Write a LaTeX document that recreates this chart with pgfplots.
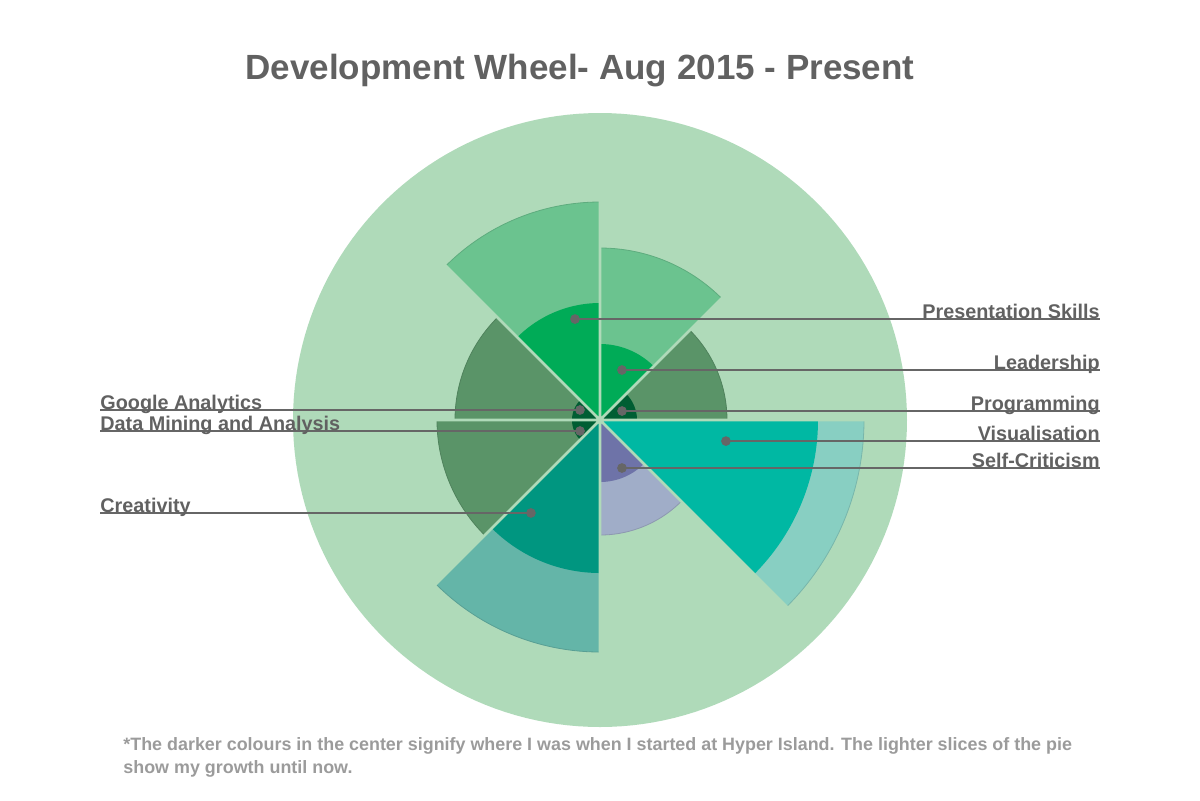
\documentclass[border=0pt]{standalone}
\usepackage{pgfplots}
\pgfplotsset{compat=1.18}
\usepgfplotslibrary{polar}
\usepackage{fontspec}
\setmainfont{Liberation Sans}

\definecolor{wheelbg}{HTML}{AFDAB9}
\definecolor{txtgray}{HTML}{616161}
\definecolor{notegray}{HTML}{9B9B9B}
\definecolor{dotgray}{HTML}{666666}
\definecolor{lgreen}{HTML}{6BC38F}
\definecolor{bgreen}{HTML}{00AB57}
\definecolor{mgreen}{HTML}{5A9468}
\definecolor{dgreen}{HTML}{005E33}
\definecolor{crOut}{HTML}{64B5A8}
\definecolor{crIn}{HTML}{009680}
\definecolor{scOut}{HTML}{A0ADC8}
\definecolor{scIn}{HTML}{6E73A8}
\definecolor{viOut}{HTML}{88CFC2}
\definecolor{viIn}{HTML}{00B8A3}

\pgfplotsset{
  outer/.style={mark=none, fill=#1, draw=#1!88!black, line width=0.4pt, samples=46},
  inner/.style={mark=none, fill=#1, draw=none, samples=46},
}

% radii in pixels of the original picture (outer circle = 307)
\begin{document}
\begin{tikzpicture}
\path[use as bounding box] (0,0) rectangle (600pt,-400pt);
\begin{polaraxis}[
  hide axis, scale only axis,
  width=307pt, height=307pt,
  xmin=0, xmax=360, ymin=0, ymax=307,
  at={(300pt,-210pt)}, anchor=center, clip=false]
  % background wheel
  \addplot[mark=none, fill=wheelbg, draw=none, domain=0:360, samples=181] {307} -- cycle;
  % Programming
  \addplot[outer=mgreen, domain=0:45] {127} -- (axis cs:0,0) -- cycle;
  \addplot[inner=dgreen, domain=0:45] {37} -- (axis cs:0,0) -- cycle;
  % Leadership
  \addplot[outer=lgreen, domain=45:90] {172} -- (axis cs:0,0) -- cycle;
  \addplot[inner=bgreen, domain=45:90] {76} -- (axis cs:0,0) -- cycle;
  % Presentation Skills
  \addplot[outer=lgreen, domain=90:135] {218} -- (axis cs:0,0) -- cycle;
  \addplot[inner=bgreen, domain=90:135] {117} -- (axis cs:0,0) -- cycle;
  % Google Analytics
  \addplot[outer=mgreen, domain=135:180] {145} -- (axis cs:0,0) -- cycle;
  \addplot[inner=dgreen, domain=135:180] {28} -- (axis cs:0,0) -- cycle;
  % Data Mining and Analysis
  \addplot[outer=mgreen, domain=180:225] {163} -- (axis cs:0,0) -- cycle;
  \addplot[inner=dgreen, domain=180:225] {28} -- (axis cs:0,0) -- cycle;
  % Creativity
  \addplot[outer=crOut, domain=225:270] {232} -- (axis cs:0,0) -- cycle;
  \addplot[inner=crIn, domain=225:270] {153} -- (axis cs:0,0) -- cycle;
  % Self-Criticism
  \addplot[outer=scOut, domain=270:315] {115} -- (axis cs:0,0) -- cycle;
  \addplot[inner=scIn, domain=270:315] {62} -- (axis cs:0,0) -- cycle;
  % Visualisation
  \addplot[outer=viOut, domain=315:360] {264} -- (axis cs:0,0) -- cycle;
  \addplot[inner=viIn, domain=315:360] {218} -- (axis cs:0,0) -- cycle;
  % gaps between slices
  \addplot[mark=none, draw=wheelbg, line width=1.3pt, line join=round] coordinates {
    (0,300) (0,0) (45,300) (45,0) (90,300) (90,0) (135,300) (135,0)
    (180,300) (180,0) (225,300) (225,0) (270,300) (270,0) (315,300) (315,0)};
  % label dots
  \addplot[only marks, mark=*, mark size=2.2pt, color=dotgray] coordinates {
    (103.9,104) (66.3,54.6) (22.2,23.8) (350.5,127.7)
    (294.6,52.8) (153.4,22.4) (208.8,22.8) (233.4,115.8)};
  \coordinate (ps) at (axis cs:103.9,104);
  \coordinate (le) at (axis cs:66.3,54.6);
  \coordinate (pr) at (axis cs:22.2,23.8);
  \coordinate (vi) at (axis cs:350.5,127.7);
  \coordinate (sc) at (axis cs:294.6,52.8);
  \coordinate (ga) at (axis cs:153.4,22.4);
  \coordinate (dm) at (axis cs:208.8,22.8);
  \coordinate (cr) at (axis cs:233.4,115.8);
\end{polaraxis}
\begin{scope}[x=0.5pt, y=-0.5pt]
  \coordinate (R) at (1100,0);
  \coordinate (L) at (100,0);
  \foreach \c in {ps,le,pr,vi,sc} {\draw[dotgray, line width=0.65pt] (\c) -- (\c -| R);}
  \foreach \c in {ga,dm,cr} {\draw[dotgray, line width=0.65pt] (\c) -- (\c -| L);}
  \tikzset{lab/.style={inner sep=0pt, text=txtgray, font=\bfseries\fontsize{9.9}{11}\selectfont, yshift=0.4pt}}
  \node[lab, anchor=base east] at (ps -| R) {Presentation Skills};
  \node[lab, anchor=base east] at (le -| R) {Leadership};
  \node[lab, anchor=base east] at (pr -| R) {Programming};
  \node[lab, anchor=base east] at (vi -| R) {Visualisation};
  \node[lab, anchor=base east] at (sc -| R) {Self-Criticism};
  \node[lab, anchor=base west] at (ga -| L) {Google Analytics};
  \node[lab, anchor=base west] at (dm -| L) {Data Mining and Analysis};
  \node[lab, anchor=base west] at (cr -| L) {Creativity};
  \node[anchor=base west, inner sep=0pt, text=txtgray, font=\bfseries\fontsize{17.5}{20}\selectfont] at (245,79) {Development Wheel- Aug 2015 - Present};
  \node[anchor=base west, inner sep=0pt, text=notegray, font=\bfseries\fontsize{8.95}{10}\selectfont] at (123,750) {*The darker colours in the center signify where I was when I started at Hyper Island. The lighter slices of the pie};
  \node[anchor=base west, inner sep=0pt, text=notegray, font=\bfseries\fontsize{8.95}{10}\selectfont] at (123,773) {show my growth until now.};
\end{scope}
\end{tikzpicture}
\end{document}
